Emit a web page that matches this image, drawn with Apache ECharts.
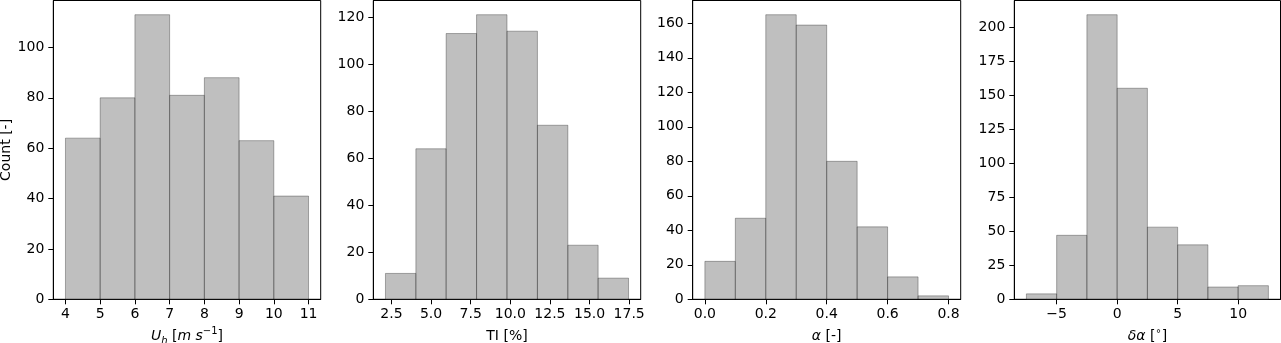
<!DOCTYPE html>
<html><head><meta charset="utf-8">
<script src="https://cdn.jsdelivr.net/npm/echarts@6/dist/echarts.min.js"></script>
<style>html,body{margin:0;padding:0;background:#fff}#c{width:1281px;height:343px}</style>
</head><body><div id="c"></div>
<script>
// ---- data ----
const uhEdges = [4, 5, 6, 7, 8, 9, 10, 11];
const uhCounts = [64, 80, 113, 81, 88, 63, 41];
const tiEdges = [2.12, 4.04, 5.95, 7.87, 9.79, 11.71, 13.63, 15.54, 17.46];
const tiCounts = [11, 64, 113, 121, 114, 74, 23, 9];
const alphaEdges = [0, 0.1, 0.2, 0.3, 0.4, 0.5, 0.6, 0.7, 0.8];
const alphaCounts = [22, 47, 165, 159, 80, 42, 13, 2];
const dAlphaEdges = [-7.5, -5, -2.5, 0, 2.5, 5, 7.5, 10, 12.5];
const dAlphaCounts = [4, 47, 209, 155, 53, 40, 9, 10];

const uhXTicks = [4, 5, 6, 7, 8, 9, 10, 11];
const tiXTicks = [2.5, 5, 7.5, 10, 12.5, 15, 17.5];
const alphaXTicks = [0, 0.2, 0.4, 0.6, 0.8];
const dAlphaXTicks = [-5, 0, 5, 10];
const uhYTicks = [0, 20, 40, 60, 80, 100];
const tiYTicks = [0, 20, 40, 60, 80, 100, 120];
const alphaYTicks = [0, 20, 40, 60, 80, 100, 120, 140, 160];
const dAlphaYTicks = [0, 25, 50, 75, 100, 125, 150, 175, 200];

const xNames = ['{i|U}{sub|h} [{i|m s}{sup|−1}]', 'TI [%]', '{i|α} [-]', '{i|δα} [{sup|∘}]'];

// ---- build ----
const FONT = 'DejaVu Sans';
const panels = [
  {edges: uhEdges, counts: uhCounts, xt: uhXTicks, yt: uhYTicks, fmt: v => String(v)},
  {edges: tiEdges, counts: tiCounts, xt: tiXTicks, yt: tiYTicks, fmt: v => v.toFixed(1)},
  {edges: alphaEdges, counts: alphaCounts, xt: alphaXTicks, yt: alphaYTicks, fmt: v => v.toFixed(1)},
  {edges: dAlphaEdges, counts: dAlphaCounts, xt: dAlphaXTicks, yt: dAlphaYTicks, fmt: v => String(v).replace('-', '\u2212')}
];
const gridLefts = [53.3, 373.3, 692.7, 1014.3];
const gridRights = [320.7, 640.7, 960.7, 1280.5];

const rich = {
  i: {fontFamily: FONT, fontStyle: 'italic', fontSize: 14, lineHeight: 20, color: '#000'},
  sub: {fontFamily: FONT, fontStyle: 'italic', fontSize: 10, lineHeight: 10, verticalAlign: 'bottom', color: '#000'},
  sup: {fontFamily: FONT, fontSize: 10, lineHeight: 10, verticalAlign: 'top', color: '#000'}
};

const grid = [], xAxis = [], yAxis = [], series = [];
panels.forEach((p, k) => {
  const lo = p.edges[0], hi = p.edges[p.edges.length - 1];
  const m = (hi - lo) * 0.05;
  const ymax = Math.max(...p.counts) * 1.05;
  grid.push({left: gridLefts[k], width: gridRights[k] - gridLefts[k], top: 0.5, height: 298.8,
    containLabel: false, outerBoundsMode: 'none',
    show: true, borderColor: '#000', borderWidth: 1, backgroundColor: 'transparent'});
  xAxis.push({type: 'value', gridIndex: k, min: lo - m, max: hi + m,
    splitLine: {show: false},
    axisLine: {show: true, onZero: false, lineStyle: {color: '#000', width: 1}},
    axisTick: {show: true, length: 5, lineStyle: {color: '#000', width: 1}, customValues: p.xt},
    axisLabel: {show: true, customValues: p.xt, formatter: p.fmt, fontFamily: FONT, fontSize: 14, color: '#000', margin: 8},
    name: xNames[k], nameLocation: 'middle', nameGap: 22,
    nameTextStyle: {fontFamily: FONT, fontSize: 14, lineHeight: 20, color: '#000', rich: rich}
  });
  yAxis.push({type: 'value', gridIndex: k, min: 0, max: ymax,
    splitLine: {show: false},
    axisLine: {show: true, onZero: false, lineStyle: {color: '#000', width: 1}},
    axisTick: {show: true, length: 5, lineStyle: {color: '#000', width: 1}, customValues: p.yt},
    axisLabel: {show: true, customValues: p.yt, fontFamily: FONT, fontSize: 14, color: '#000', margin: 9},
    name: k === 0 ? 'Count [-]' : '', nameLocation: 'middle', nameGap: 38,
    nameTextStyle: {fontFamily: FONT, fontSize: 14, color: '#000'}
  });
  const data = p.counts.map((c, i) => [p.edges[i], p.edges[i + 1], c]);
  series.push({type: 'custom', xAxisIndex: k, yAxisIndex: k, data: data,
    encode: {x: [0, 1], y: 2}, clip: false, silent: true,
    renderItem: function (params, api) {
      const a = api.coord([api.value(0), api.value(2)]);
      const b = api.coord([api.value(1), 0]);
      return {type: 'rect', shape: {x: a[0], y: a[1], width: b[0] - a[0], height: b[1] - a[1]},
        style: {fill: 'rgba(128,128,128,0.5)', stroke: 'rgba(0,0,0,0.3)', lineWidth: 1}};
    }
  });
});

const chart = echarts.init(document.getElementById('c'), null, {renderer: 'canvas'});
chart.setOption({animation: false, backgroundColor: '#fff', grid, xAxis, yAxis, series});
</script></body></html>
